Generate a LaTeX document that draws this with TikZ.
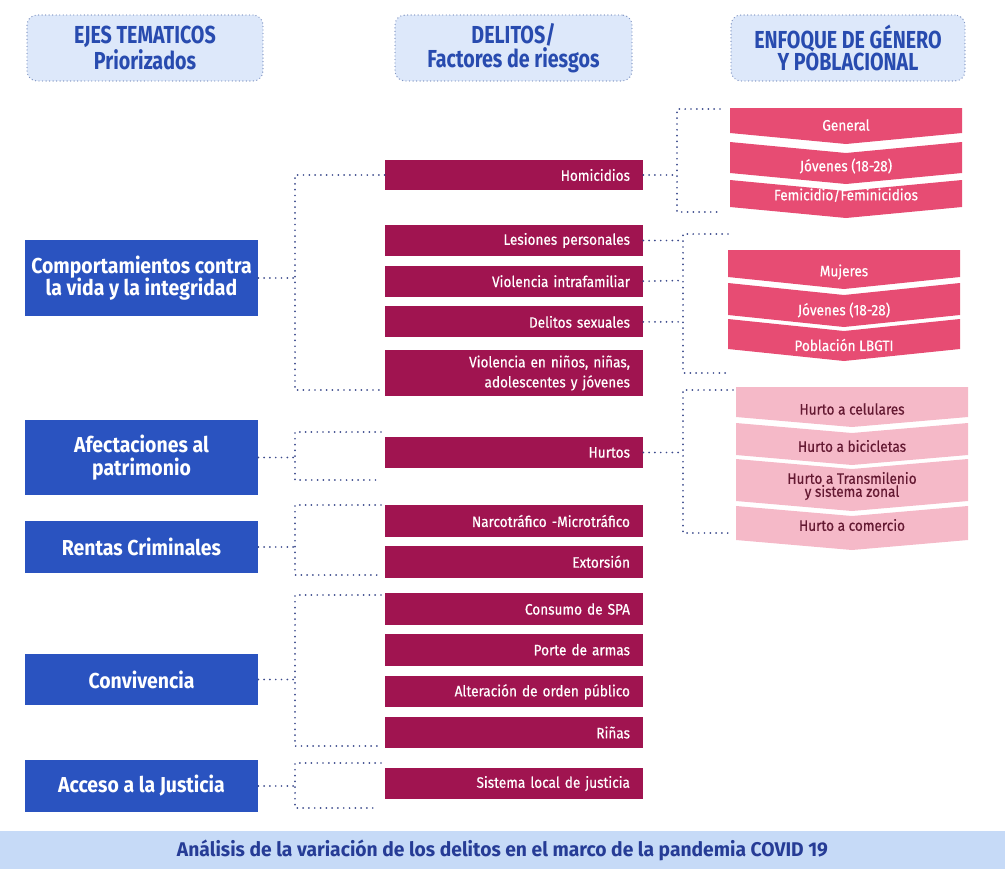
\documentclass[tikz,border=0pt]{standalone}
\usepackage{fontspec}
\setmainfont{Fira Sans}
\newfontfamily\condreg[FakeStretch=0.9, FakeBold=0.5]{Fira Sans}
\newfontfamily\condhead[FakeStretch=0.8]{Fira Sans}
\newfontfamily\condbold[FakeStretch=0.9]{Fira Sans}
\newfontfamily\bandfont[FakeStretch=0.97]{Fira Sans}
\usetikzlibrary{positioning,calc}
\definecolor{ejeblue}{RGB}{42,83,192}
\definecolor{delmag}{RGB}{160,20,80}
\definecolor{genpink}{RGB}{231,76,115}
\definecolor{hurpink}{RGB}{245,185,200}
\definecolor{hurtext}{RGB}{100,25,50}
\definecolor{headfill}{RGB}{221,232,250}
\definecolor{headline}{RGB}{130,150,195}
\definecolor{headtext}{RGB}{40,75,175}
\definecolor{bandfill}{RGB}{198,218,247}
\definecolor{bandtext}{RGB}{38,60,150}
\definecolor{dotcol}{RGB}{60,75,140}
\tikzstyle{headbox} = [draw=headline, fill=headfill, rounded corners=0.2cm, line width=0.8pt, line cap=round, dash pattern=on 0pt off 2pt, minimum width=4.72cm, minimum height=1.32cm, align=center, text=headtext, inner sep=0pt, font=\condhead\bfseries\fontsize{14}{12.8}\selectfont]
\tikzstyle{axisbox} = [fill=ejeblue, text=white, minimum width=4.66cm, align=center, inner sep=0pt, font=\condbold\bfseries\fontsize{12.3}{12.8}\selectfont]
\tikzstyle{delbox} = [fill=delmag, text=white, minimum width=5.16cm, minimum height=0.62cm, text width=4.64cm, align=right, inner xsep=0.26cm, inner ysep=0pt, font=\condreg\fontsize{8.6}{11.4}\selectfont]
\tikzstyle{chevtext} = [text=white, align=center, inner sep=0pt, font=\condreg\fontsize{8.6}{7.4}\selectfont]
\tikzstyle{dotline} = [dotcol, line width=1.1pt, line cap=round, dash pattern=on 0pt off 3.3pt]
\tikzstyle{banner} = [fill=bandfill, text=bandtext, minimum width=20.1cm, minimum height=0.76cm, inner sep=0pt, font=\bandfont\bfseries\fontsize{11.3}{12}\selectfont]
% chevron: name, colour, left, right, top, bottom, notch (0/1), text y, text
\newcommand{\chevdepth}{11}
\newcommand{\chevbox}[9]{%
  \fill[#2] (#3,#5) -- ({(#3+#4)/2},{#5+#7*\chevdepth}) -- (#4,#5) -- (#4,#6)
    -- ({(#3+#4)/2},{#6+\chevdepth}) -- (#3,#6) -- cycle;
  \node[chevtext] (#1) at ({(#3+#4)/2},#8) {#9};
}

\begin{document}
\begin{tikzpicture}[x=0.02cm, y=-0.02cm]
\useasboundingbox (0,0) rectangle (1005,869);

% column heads
\node (hejes) [headbox] at (145,48) {EJES TEMATICOS\\Priorizados};
\node (hdel) [headbox, minimum width=4.74cm] at (513.5,48) {DELITOS/\\Factores de riesgos};
\node (henf) [headbox, minimum width=4.68cm] at (848,48) {ENFOQUE DE GÉNERO\\Y POBLACIONAL};

% ejes
\node (comp) [axisbox, minimum height=1.52cm] at (141.5,278) {Comportamientos contra\\la vida y la integridad};
\node (afec) [axisbox, minimum height=1.5cm] at (141.5,457.5) {Afectaciones al\\patrimonio};
\node (rent) [axisbox, minimum height=1.04cm] at (141.5,547) {Rentas Criminales};
\node (conv) [axisbox, minimum height=1.02cm] at (141.5,679.5) {Convivencia};
\node (acce) [axisbox, minimum height=1.04cm] at (141.5,786) {Acceso a la Justicia};

% delitos
\node (homi) [delbox] at (514,175) {Homicidios};
\node (lesi) [delbox] at (514,240.5) {Lesiones personales};
\node (vifa) [delbox, below=0.18cm of lesi] {Violencia intrafamiliar};
\node (dsex) [delbox, below=0.18cm of vifa] {Delitos sexuales};
\node (vnna) [delbox, minimum height=0.92cm, below=0.24cm of dsex] {Violencia en niños, niñas,\\adolescentes y jóvenes};
\node (hurt) [delbox] at (514,452.5) {Hurtos};
\node (narc) [delbox, minimum height=0.64cm] at (514,521) {Narcotráfico -Microtráfico};
\node (exto) [delbox, minimum height=0.64cm, below=0.16cm of narc] {Extorsión};
\node (cspa) [delbox, minimum height=0.64cm] at (514,609) {Consumo de SPA};
\node (parm) [delbox, minimum height=0.64cm, below=0.16cm of cspa] {Porte de armas};
\node (aord) [delbox, below=0.2cm of parm] {Alteración de orden público};
\node (rina) [delbox, below=0.18cm of aord] {Riñas};
\node (sloc) [delbox] at (514,783.5) {Sistema local de justicia};

% enfoque
\chevbox{gene}{genpink}{730}{962}{108}{133}{0}{125}{General}
\chevbox{jova}{genpink}{730}{962}{142}{173}{1}{166}{Jóvenes (18-28)}
\chevbox{femi}{genpink}{730}{962}{180}{207}{1}{195}{Femicidio/Feminicidios}
\renewcommand{\chevdepth}{12}
\chevbox{muje}{genpink}{728}{960}{250}{277}{0}{272}{Mujeres}
\chevbox{jovb}{genpink}{728}{960}{283}{315}{1}{310}{Jóvenes (18-28)}
\chevbox{lgbt}{genpink}{728}{960}{319}{349}{1}{345}{Población LBGTI}
\renewcommand{\chevdepth}{10}
\begin{scope}[chevtext/.append style={text=hurtext}]
\chevbox{celu}{hurpink}{736}{968}{387}{417}{0}{409}{Hurto a celulares}
\chevbox{bici}{hurpink}{736}{968}{423}{455}{1}{446}{Hurto a bicicletas}
\chevbox{tran}{hurpink}{736}{968}{459}{501}{1}{486}{Hurto a Transmilenio\\y sistema zonal}
\chevbox{come}{hurpink}{736}{968}{506}{540}{1}{525}{Hurto a comercio}
\end{scope}

% brackets ejes -> delitos
\coordinate (j1) at (295,278);
\coordinate (e1) at (383,390);
\draw[dotline] (comp.east) -- (j1);
\draw[dotline] (homi.west) -| (j1) |- (e1);

\coordinate (j2) at (295,457.5);
\coordinate (t2) at (381,432);
\coordinate (b2) at (381,480);
\draw[dotline] (afec.east) -- (j2);
\draw[dotline] (t2) -| (j2) |- (b2);

\coordinate (j3) at (295,547);
\coordinate (t3) at (381,505);
\coordinate (b3) at (381,575);
\draw[dotline] (rent.east) -- (j3);
\draw[dotline] (t3) -| (j3) |- (b3);

\coordinate (j4) at (295,679.5);
\coordinate (t4) at (381,595);
\coordinate (b4) at (378,746);
\draw[dotline] (conv.east) -- (j4);
\draw[dotline] (t4) -| (j4) |- (b4);

\coordinate (j5) at (295,786);
\coordinate (t5) at (381,763);
\coordinate (b5) at (378,808);
\draw[dotline] (acce.east) -- (j5);
\draw[dotline] (t5) -| (j5) |- (b5);

% brackets delitos -> enfoque
\coordinate (jA) at (677,175);
\coordinate (tA) at (720,109);
\coordinate (bA) at (720,212);
\draw[dotline] (homi.east) -- (jA);
\draw[dotline] (tA) -| (jA) |- (bA);

\coordinate (jB) at (683,280.5);
\coordinate (tB) at (728,234);
\coordinate (bB) at (728,373);
\draw[dotline] (lesi.east) -- (lesi.east -| jB);
\draw[dotline] (vifa.east) -- (jB);
\draw[dotline] (dsex.east) -- (dsex.east -| jB);
\draw[dotline] (tB) -| (jB) |- (bB);

\coordinate (jC) at (683,452.5);
\coordinate (tC) at (733,390);
\coordinate (bC) at (733,533);
\draw[dotline] (hurt.east) -- (jC);
\draw[dotline] (tC) -| (jC) |- (bC);

% banner
\node (band) [banner] at (502.5,850) {Análisis de la variación de los delitos en el marco de la pandemia COVID 19};
\end{tikzpicture}
\end{document}
